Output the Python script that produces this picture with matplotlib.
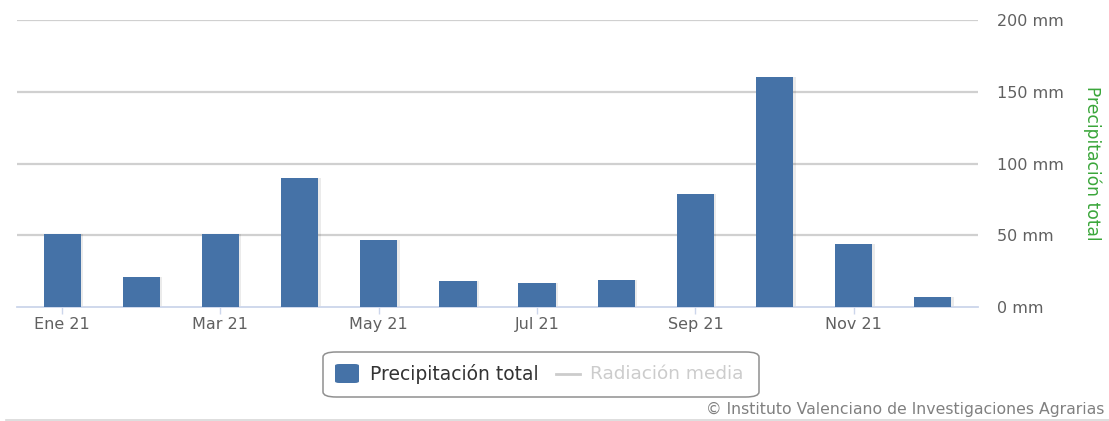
import matplotlib
matplotlib.use("Agg")
import matplotlib.pyplot as plt
from matplotlib.patches import FancyBboxPatch
from matplotlib.lines import Line2D

months = ["Ene 21", "Feb 21", "Mar 21", "Abr 21", "May 21", "Jun 21",
          "Jul 21", "Ago 21", "Sep 21", "Oct 21", "Nov 21", "Dic 21"]
precip = [51, 21, 51, 90, 46.5, 18, 17, 19, 78.6, 160.4, 44, 7.3]
yticks = [0, 50, 100, 150, 200]
ytick_labels = ["0 mm", "50 mm", "100 mm", "150 mm", "200 mm"]
xtick_idx = [0, 2, 4, 6, 8, 10]

bar_color = "#4572A7"
grid_color = "#d0d0d0"
text_color = "#606060"

fig = plt.figure(figsize=(11.09, 4.21), dpi=100)
ax = fig.add_axes([17/1109, 1 - 307/421, (978-17)/1109, (307-20)/421])

x = list(range(len(months)))
# subtle shadow
ax.bar([xi + 0.03 for xi in x], precip, width=0.47, color="#000000", alpha=0.08,
       zorder=2)
ax.bar(x, precip, width=0.47, color=bar_color, zorder=3)

ax.set_xlim(-0.57, 11.57)
ax.set_ylim(0, 200)
ax.set_yticks(yticks)
ax.yaxis.tick_right()
ax.set_yticklabels(ytick_labels, fontsize=11.5, color=text_color)
ax.tick_params(axis="y", length=0, pad=14)
for yv in yticks[1:]:
    ax.axhline(yv, color=grid_color, lw=1.6, zorder=1)

ax.set_xticks([x[i] for i in xtick_idx])
ax.set_xticklabels([months[i] for i in xtick_idx], fontsize=11.5, color=text_color)
ax.tick_params(axis="x", length=5, width=1, color="#ccd6eb", pad=2)

for s in ["top", "left", "right"]:
    ax.spines[s].set_visible(False)
ax.spines["bottom"].set_color("#ccd6eb")
ax.spines["bottom"].set_linewidth(1.3)

ax.yaxis.set_label_position("right")
ax.set_ylabel("Precipitación total", color="#3aa63a", fontsize=12.3,
              rotation=270, labelpad=27)

# legend box
fig.patches.append(FancyBboxPatch((323/1109, 1 - 397/421), (759-323)/1109, (397-352)/421,
                                  boxstyle="round,pad=0,rounding_size=0.012",
                                  transform=fig.transFigure, facecolor="white",
                                  edgecolor="#909090", lw=1.1))
fig.patches.append(FancyBboxPatch((335/1109, 1 - 383/421), 24/1109, 19/421,
                                  boxstyle="round,pad=0,rounding_size=0.004",
                                  transform=fig.transFigure, facecolor=bar_color,
                                  edgecolor="none"))
fig.text(370/1109, 1 - 374/421, "Precipitación total", fontsize=13.5,
         color="#333333", va="center", ha="left")
fig.lines.append(Line2D([556/1109, 580/1109], [1 - 374/421, 1 - 374/421],
                        transform=fig.transFigure, color="#cccccc", lw=2))
fig.text(590/1109, 1 - 374/421, "Radiación media", fontsize=13.3,
         color="#cccccc", va="center", ha="left")

fig.text(1104/1109, 1 - 409/421, "© Instituto Valenciano de Investigaciones Agrarias",
         fontsize=11.3, color="#808080", ha="right", va="center")
fig.lines.append(Line2D([6/1109, 1.0], [1 - 420/421, 1 - 420/421],
                        transform=fig.transFigure, color="#d8d8d8", lw=1.2))

fig.savefig("out.png", dpi=100)
